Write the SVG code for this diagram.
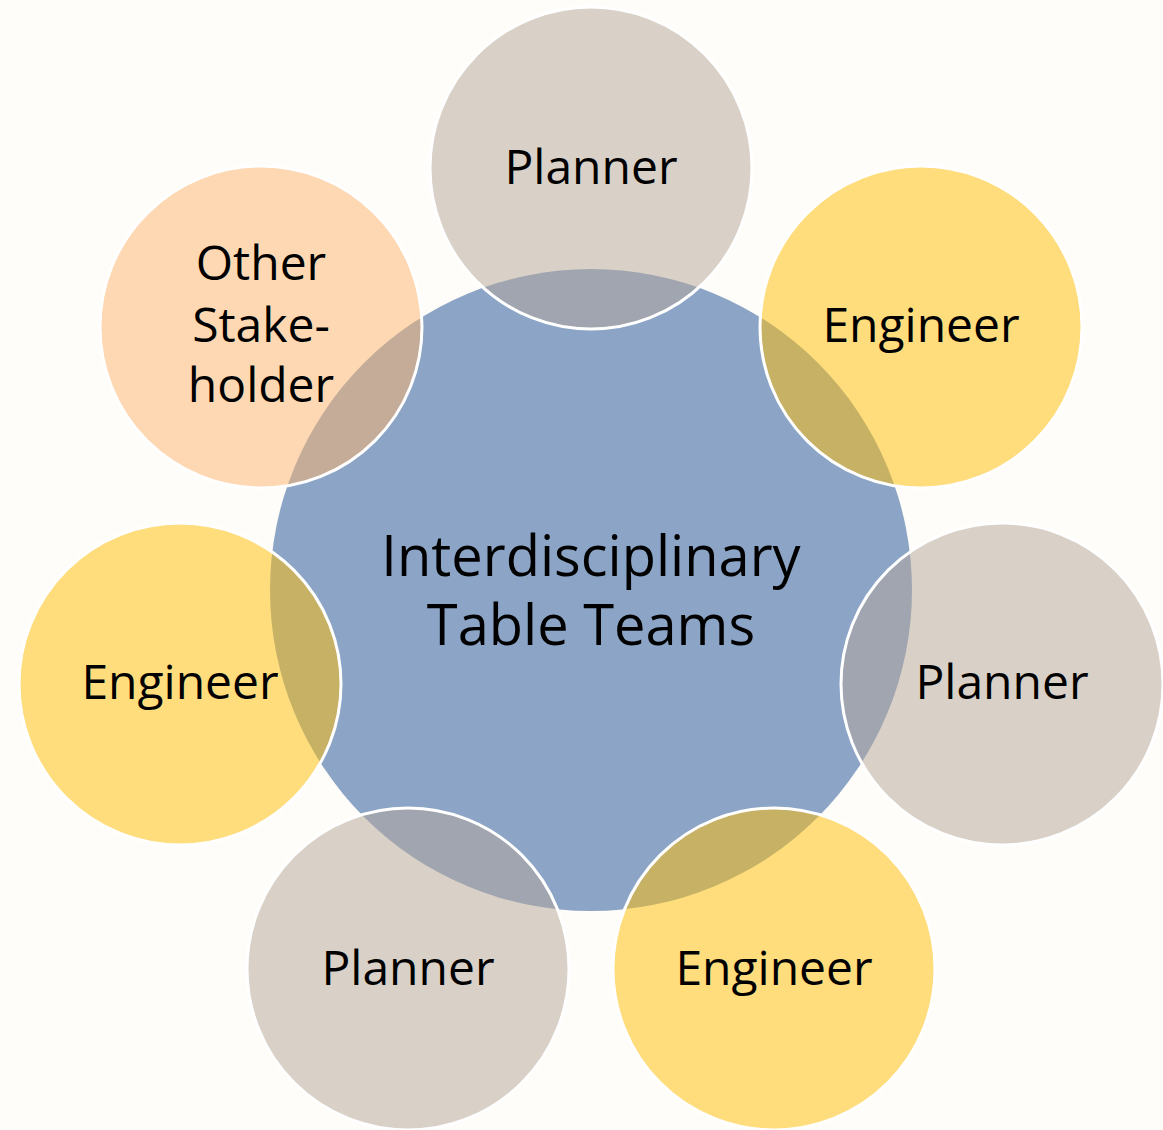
<svg xmlns="http://www.w3.org/2000/svg" width="1163" height="1130" viewBox="0 0 1163 1130">
<style>
.bg{fill:#FEFDF9}
.hub{fill:#8CA5C6}
.sat{fill-opacity:0.5;stroke:#FFFFFF;stroke-width:3}
.planner{fill:#B4A597}
.engineer{fill:#FFBE02}
.other{fill:#FBB46B}
text{font-family:"Open Sans","Liberation Sans",sans-serif;font-size:48px;fill:#000;text-anchor:middle}
text.big{font-size:56px}
</style>
<rect class="bg" x="0" y="0" width="1163" height="1130"/>
<g id="hub">
<circle class="hub" cx="591" cy="590" r="321"/>
<text class="big" x="591" y="576">Interdisciplinary</text>
<text class="big" x="591" y="645">Table Teams</text>
</g>
<g id="connectors"></g>
<g id="planner-top">
<circle class="sat planner" cx="591" cy="168" r="161"/>
<text x="591" y="184">Planner</text>
</g>
<g id="engineer-upper-right">
<circle class="sat engineer" cx="921" cy="327" r="161"/>
<text x="921" y="342">Engineer</text>
</g>
<g id="planner-right">
<circle class="sat planner" cx="1002" cy="684" r="161"/>
<text x="1002" y="699">Planner</text>
</g>
<g id="engineer-lower-right">
<circle class="sat engineer" cx="774" cy="969" r="161"/>
<text x="774" y="985">Engineer</text>
</g>
<g id="planner-lower-left">
<circle class="sat planner" cx="408" cy="969" r="161"/>
<text x="408" y="985">Planner</text>
</g>
<g id="engineer-left">
<circle class="sat engineer" cx="180" cy="684" r="161"/>
<text x="180" y="699">Engineer</text>
</g>
<g id="other-stakeholder">
<circle class="sat other" cx="261" cy="327" r="161"/>
<text x="261" y="280">Other</text>
<text x="261" y="342">Stake-</text>
<text x="261" y="402">holder</text>
</g>
</svg>
